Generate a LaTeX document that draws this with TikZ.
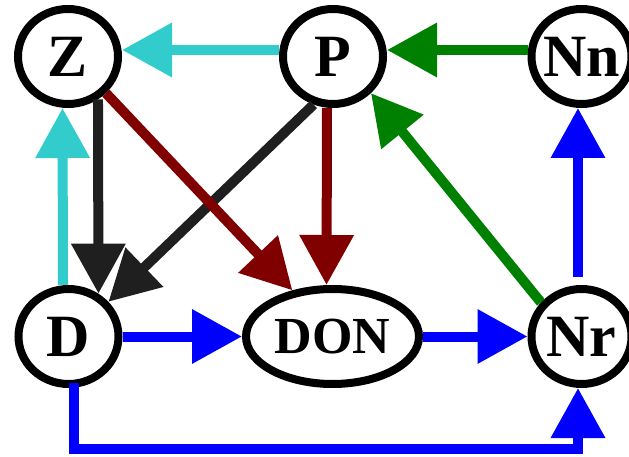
\documentclass[tikz,border=0pt]{standalone}
\usepackage{fontspec}
\setmainfont{Liberation Serif}
\usetikzlibrary{arrows.meta,shapes.geometric}
\definecolor{edgecyan}{RGB}{51,204,204}
\definecolor{edgemaroon}{RGB}{128,0,0}
\definecolor{edgegreen}{RGB}{0,128,0}
\definecolor{edgeblue}{RGB}{0,0,255}
\definecolor{edgeblack}{RGB}{31,31,31}
% keep the label from widening the ellipse
\newcommand{\nodetext}[1]{\makebox[0pt]{#1}}
\begin{document}
\begin{tikzpicture}[x=1pt,y=-1pt,
  state/.style={ellipse,draw=black,fill=white,line width=8pt,
    minimum width=100pt,minimum height=95pt,inner sep=0pt,
    font=\fontsize{60}{60}\selectfont\bfseries},
  pool/.style={state,minimum width=173pt,
    font=\fontsize{52}{52}\selectfont\bfseries},
  flow/.style={line width=10pt,-{Triangle[length=50pt,width=52pt]}},
]
\useasboundingbox (0,0) rectangle (629,457);

% compartments
\node[state] (Z)   at (68,56.5)    {\nodetext{Z}};
\node[state] (P)   at (333,56.5)   {\nodetext{P}};
\node[state] (Nn)  at (581.5,56.5) {\nodetext{Nn}};
\node[state] (D)   at (68.5,336.5) {\nodetext{D}};
\node[pool]  (DON) at (332.5,336.5){\nodetext{DON}};
\node[state] (Nr)  at (581.5,336.5){\nodetext{Nr}};

% fluxes
\draw[flow,edgecyan] ([yshift=6.5pt]P.west) -- ([yshift=6.5pt]Z.east);
\draw[flow,edgecyan] ([xshift=-5.5pt]D.north) -- ([xshift=-5.5pt]Z.south);
\draw[flow,edgeblack] (Z.-55) -- (D.55);
\draw[flow,edgeblack] (P.248) -- (D.41);
\draw[flow,edgemaroon] (Z.-44) -- (DON.131);
\draw[flow,edgemaroon] ([xshift=-6pt]P.south) -- ([xshift=-6pt]DON.north);
\draw[flow,edgegreen] ([yshift=6.5pt]Nn.west) -- ([yshift=6.5pt]P.east);
\draw[flow,edgegreen] (Nr.140) -- (P.-44);
\draw[flow,edgeblue,shorten <=8pt] ([xshift=-3.5pt]Nr.north) -- ([xshift=-3.5pt]Nn.south);
\draw[flow,edgeblue] (D.east) -- (DON.west);
\draw[flow,edgeblue] (DON.east) -- (Nr.west);
\coordinate (loop) at (578,449);
\draw[flow,edgeblue,shorten <=-5pt] ([xshift=5.5pt]D.south) |- (loop) -- ([xshift=-3.5pt]Nr.south);
\end{tikzpicture}
\end{document}
